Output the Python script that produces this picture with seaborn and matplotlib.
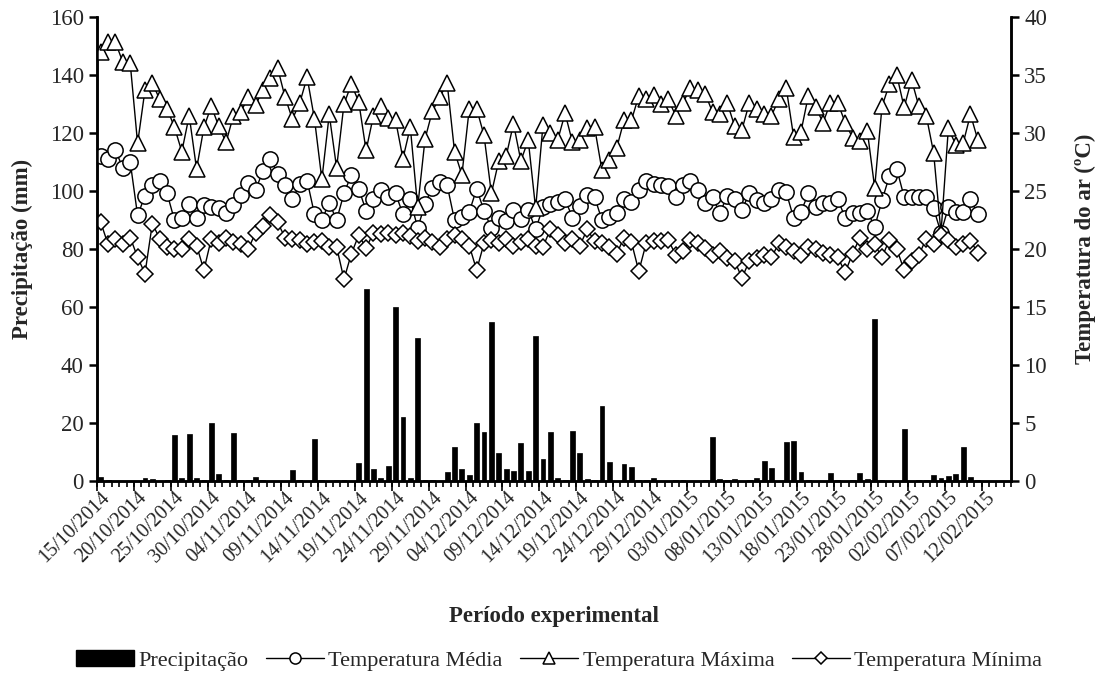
import numpy as np
import pandas as pd
import matplotlib
matplotlib.use('Agg')
import matplotlib.pyplot as plt
import seaborn as sns
from matplotlib.lines import Line2D
from matplotlib.patches import Patch

sns.set_theme(style='white')
plt.rcParams['font.family'] = ['Liberation Serif', 'DejaVu Serif']

# eixo de categorias: 15/10/2014 a 15/02/2015 (dados ate 11/02/2015)
n_dias = 124
datas = pd.date_range('2014-10-15', periods=n_dias, freq='D').strftime('%d/%m/%Y')

precipitacao = [1.6, 0.6, 0, 0, 0, 0, 1.3, 0.7, 0, 0.4,
                15.8, 1.2, 16.3, 1.3, 0.4, 20.0, 2.6, 0.4, 16.7, 0.3,
                0.6, 1.6, 0.3, 0, 0, 0, 4.0, 0.3, 0, 14.5,
                0.5, 0, 0.4, 0.3, 0, 6.3, 66.4, 4.4, 1.2, 5.2,
                59.9, 22.3, 1.3, 49.3, 0.3, 0.3, 0, 3.1, 11.7, 4.3,
                2.1, 20.0, 17.1, 55.0, 9.9, 4.2, 3.4, 13.3, 3.6, 50.0,
                7.8, 17.1, 1.3, 0.3, 17.4, 9.9, 0.8, 0.3, 26.0, 6.5,
                0, 6.0, 5.1, 0.3, 0.3, 1.0, 0, 0, 0.3, 0.3,
                0, 0, 0.3, 15.2, 0.8, 0.3, 0.8, 0, 0.3, 1.0,
                7.0, 4.5, 0, 13.5, 14.0, 3.2, 0.3, 0, 0, 2.8,
                0.3, 0, 0.3, 2.9, 0.8, 55.9, 0.3, 0, 0, 18.2,
                0, 0.3, 0.4, 2.3, 1.2, 1.9, 2.6, 12.0, 1.6, 0.3]

temp_max = [37.0, 37.8, 37.8, 36.1, 36.0, 29.1, 33.7, 34.3, 32.9, 32.1,
            30.5, 28.4, 31.5, 26.9, 30.5, 32.3, 30.6, 29.2, 31.5, 31.8,
            33.1, 32.4, 33.7, 34.7, 35.6, 33.1, 31.2, 32.6, 34.8, 31.2,
            26.0, 31.6, 27.0, 32.5, 34.2, 32.7, 28.5, 31.5, 32.3, 31.3,
            31.1, 27.8, 30.5, 23.6, 29.5, 31.9, 33.1, 34.3, 28.4, 26.4,
            32.1, 32.1, 29.8, 24.8, 27.6, 28.0, 30.8, 27.6, 29.4, 23.5,
            30.7, 30.0, 29.4, 31.7, 29.2, 29.4, 30.4, 30.5, 26.8, 27.7,
            28.7, 31.1, 31.1, 33.2, 32.9, 33.3, 32.5, 32.9, 31.5, 32.6,
            33.9, 33.7, 33.4, 31.8, 31.6, 32.6, 30.6, 30.3, 32.6, 32.1,
            31.6, 31.5, 32.9, 33.9, 29.7, 30.1, 33.2, 32.2, 30.9, 32.6,
            32.6, 30.9, 29.6, 29.3, 30.2, 25.3, 32.3, 34.2, 35.0, 32.2,
            34.6, 32.3, 31.5, 28.3, 21.4, 30.4, 29.0, 29.1, 31.6, 29.4]

temp_med = [28.0, 27.8, 28.5, 27.0, 27.5, 22.9, 24.6, 25.5, 25.9, 24.8,
            22.5, 22.7, 23.9, 22.7, 23.8, 23.6, 23.5, 23.1, 23.8, 24.7,
            25.7, 25.1, 26.7, 27.8, 26.5, 25.5, 24.3, 25.6, 25.9, 23.0,
            22.5, 24.0, 22.5, 24.8, 26.4, 25.2, 23.3, 24.3, 25.1, 24.5,
            24.8, 23.0, 24.3, 21.8, 23.9, 25.3, 25.8, 25.5, 22.5, 22.8,
            23.2, 25.2, 23.3, 21.8, 22.7, 22.4, 23.4, 22.6, 23.4, 21.7,
            23.6, 23.9, 24.1, 24.3, 22.7, 23.7, 24.7, 24.5, 22.5, 22.8,
            23.1, 24.3, 24.1, 25.1, 25.9, 25.6, 25.5, 25.4, 24.5, 25.5,
            25.9, 25.1, 24.0, 24.5, 23.1, 24.6, 24.3, 23.4, 24.8, 24.2,
            24.0, 24.3, 25.1, 24.9, 22.7, 23.2, 24.8, 23.6, 24.0, 24.0,
            24.3, 22.7, 23.1, 23.1, 23.3, 21.9, 24.2, 26.3, 26.9, 24.5,
            24.5, 24.5, 24.5, 23.5, 21.4, 23.6, 23.2, 23.2, 24.3, 23.0]

temp_min = [22.3, 20.4, 20.9, 20.4, 21.0, 19.3, 17.9, 22.2, 20.9, 20.2,
            20.0, 20.0, 20.9, 20.3, 18.2, 20.9, 20.5, 21.0, 20.6, 20.4,
            20.0, 21.4, 22.0, 22.9, 22.3, 21.0, 20.9, 20.8, 20.4, 20.6,
            20.7, 20.2, 20.2, 17.4, 19.6, 21.2, 20.1, 21.4, 21.3, 21.4,
            21.2, 21.4, 21.1, 20.7, 21.0, 20.6, 20.2, 20.9, 21.2, 20.9,
            20.3, 18.2, 20.5, 20.8, 20.5, 20.9, 20.3, 20.6, 20.9, 20.3,
            20.2, 21.7, 21.2, 20.5, 20.9, 20.3, 21.7, 20.7, 20.5, 20.2,
            19.6, 21.0, 20.6, 18.1, 20.5, 20.7, 20.7, 20.8, 19.5, 19.8,
            20.8, 20.5, 20.1, 19.5, 19.8, 19.2, 19.0, 17.5, 19.0, 19.2,
            19.5, 19.3, 20.5, 20.2, 19.8, 19.5, 20.2, 20.0, 19.7, 19.5,
            19.3, 18.0, 19.6, 21.0, 20.0, 20.4, 19.3, 20.8, 20.0, 18.2,
            19.0, 19.5, 20.9, 20.4, 21.2, 20.8, 20.2, 20.4, 20.7, 19.7]

df_chuva = pd.DataFrame({'data': datas[:len(precipitacao)], 'precipitacao': precipitacao})
dias = np.arange(len(temp_max))

fig, ax = plt.subplots(figsize=(11.03, 6.77), dpi=100)
fig.subplots_adjust(left=0.088, right=0.9166, top=0.975, bottom=0.289)

sns.barplot(data=df_chuva, x='data', y='precipitacao', order=list(datas),
            color='black', saturation=1, width=0.66, edgecolor='black', linewidth=0.5, ax=ax)
ax.set_xlim(-0.5, n_dias - 0.5)
ax.set_ylim(0, 160)
ax.set_yticks(range(0, 161, 20))

ax2 = ax.twinx()
estilo = dict(color='black', lw=1, mfc='white', mec='black', mew=1.1)
sns.lineplot(x=dias, y=temp_med, ax=ax2, marker='o', ms=11, **estilo)
sns.lineplot(x=dias, y=temp_max, ax=ax2, marker='^', ms=11, **estilo)
sns.lineplot(x=dias, y=temp_min, ax=ax2, marker='D', ms=8, **estilo)
ax2.set_ylim(0, 40)
ax2.set_yticks(range(0, 41, 5))

# rotulos de data a cada 5 dias
ax.set_xticks(range(0, 121, 5))
ax.set_xticklabels(datas[0:121:5], rotation=45, ha='right', va='top',
                   rotation_mode='anchor', fontsize=14.5)
ax.set_xticks(np.arange(-0.5, n_dias, 1), minor=True)
ax.tick_params(axis='x', which='major', length=0, pad=5)
ax.tick_params(axis='x', which='minor', bottom=True, length=4, width=1.2, color='black', direction='out')

sec = ax.secondary_xaxis('bottom')
sec.set_xticks(np.arange(-0.5, n_dias, 5))
sec.set_xticklabels([])
sec.tick_params(length=7, width=1.2, color='black')
sec.spines['bottom'].set_visible(False)

for a in (ax, ax2):
    a.spines['top'].set_visible(False)
    for s in ('left', 'right', 'bottom'):
        a.spines[s].set_linewidth(1.8)
        a.spines[s].set_color('black')
ax.tick_params(axis='y', left=True, length=6, width=1.8, labelsize=16.5, color='black')
ax2.tick_params(axis='y', right=True, length=6, width=1.8, labelsize=16.5, color='black')

ax.set_xlabel('Período experimental', fontsize=16.5, fontweight='bold', labelpad=28)
ax.set_ylabel('Precipitação (mm)', fontsize=16.5, fontweight='bold', labelpad=12)
ax2.set_ylabel('Temperatura do ar (ºC)', fontsize=16.5, fontweight='bold', labelpad=20)

handles = [Patch(facecolor='black', edgecolor='black'),
           Line2D([], [], marker='o', ms=8, **estilo),
           Line2D([], [], marker='^', ms=8, **estilo),
           Line2D([], [], marker='D', ms=6, **estilo)]
nomes = ['Precipitação', 'Temperatura Média', 'Temperatura Máxima', 'Temperatura Mínima']
fig.legend(handles, nomes, loc='center', bbox_to_anchor=(0.507, 0.024), ncol=4, frameon=False,
           fontsize=16, handlelength=2.6, handletextpad=0.2, columnspacing=0.8)

fig.savefig('out.png', dpi=100)
